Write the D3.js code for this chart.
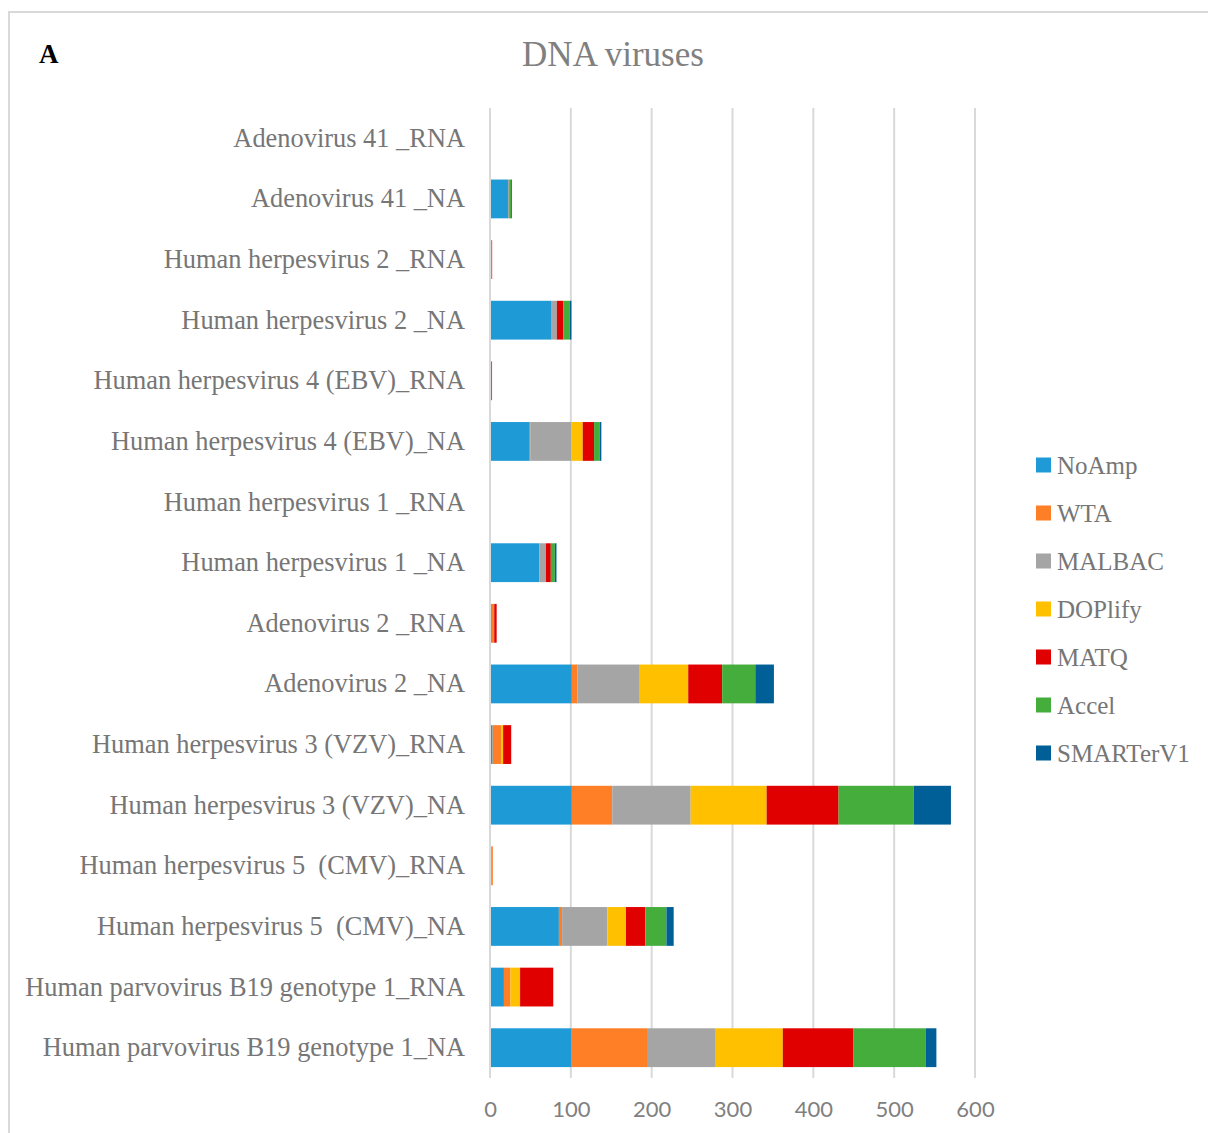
<!DOCTYPE html>
<html>
<head>
<meta charset="utf-8">
<script src="https://cdn.jsdelivr.net/npm/d3@7"></script>
<style>
  html, body { margin: 0; padding: 0; background: #ffffff; }
  svg { display: block; }
</style>
</head>
<body>
<div id="chart"></div>
<script>
// Categories, listed top to bottom
const categories = [
  "Adenovirus 41 _RNA",
  "Adenovirus 41 _NA",
  "Human herpesvirus 2 _RNA",
  "Human herpesvirus 2 _NA",
  "Human herpesvirus 4 (EBV)_RNA",
  "Human herpesvirus 4 (EBV)_NA",
  "Human herpesvirus 1 _RNA",
  "Human herpesvirus 1 _NA",
  "Adenovirus 2 _RNA",
  "Adenovirus 2 _NA",
  "Human herpesvirus 3 (VZV)_RNA",
  "Human herpesvirus 3 (VZV)_NA",
  "Human herpesvirus 5  (CMV)_RNA",
  "Human herpesvirus 5  (CMV)_NA",
  "Human parvovirus B19 genotype 1_RNA",
  "Human parvovirus B19 genotype 1_NA"
];

const seriesNames = ["NoAmp", "WTA", "MALBAC", "DOPlify", "MATQ", "Accel", "SMARTerV1"];
const seriesColors = ["#1e9bd7", "#ff7f27", "#a5a5a5", "#ffc000", "#e00000", "#44ad3c", "#005f96"];

// One array per method, in category order
const NoAmp     = [0, 21, 0,   75, 0.5, 47, 0, 60, 1, 100,  2, 100, 0.3, 84, 16, 99];
const WTA       = [0, 0,  0.8, 0.5, 0,  1.5, 0, 0, 3,   7, 11,  50, 2,    4,  8, 94];
const MALBAC    = [0, 2,  0,    6, 0,   51, 0, 8, 0,  77,  0,  97, 0,   56,  0, 85];
const DOPlify   = [0, 0,  0,    0, 0,   14, 0, 0, 0,  60,  2,  94, 0,   23, 12, 83];
const MATQ      = [0, 0.5, 0.6, 8, 0.8, 14, 0, 6, 3,  42, 10,  89, 0,   24, 41, 87];
const Accel     = [0, 1.5, 0,   8, 0,    7, 0, 5, 0,  41,  0,  93, 0,   26,  0, 90];
const SMARTerV1 = [0, 1,  0,    2, 0,    2, 0, 2, 0,  23,  0,  46, 0,    9,  0, 13];

const xTicks = [0, 100, 200, 300, 400, 500, 600];

const seriesValues = [NoAmp, WTA, MALBAC, DOPlify, MATQ, Accel, SMARTerV1];
const rows = categories.map((c, i) => {
  const r = { category: c };
  seriesNames.forEach((s, j) => { r[s] = seriesValues[j][i]; });
  return r;
});

const W = 1208, H = 1133;
const svg = d3.select("#chart").append("svg")
  .attr("width", W).attr("height", H);

// Outer frame
svg.append("rect")
  .attr("x", 9).attr("y", 12)
  .attr("width", W + 20).attr("height", H + 20)
  .attr("fill", "#ffffff")
  .attr("stroke", "#d9d9d9").attr("stroke-width", 2);

const plotLeft = 490, plotRight = 975, plotTop = 108, plotBottom = 1078;

const x = d3.scaleLinear().domain([0, 600]).range([plotLeft, plotRight]);
const y = d3.scaleBand().domain(categories).range([plotTop, plotBottom])
  .paddingInner(0.36).paddingOuter(0.18);
const color = d3.scaleOrdinal().domain(seriesNames).range(seriesColors);

// Vertical gridlines
svg.append("g").selectAll("line").data(xTicks).join("line")
  .attr("x1", d => x(d)).attr("x2", d => x(d))
  .attr("y1", plotTop).attr("y2", plotBottom)
  .attr("stroke", "#d9d9d9").attr("stroke-width", 2);

// Stacked bars
const stack = d3.stack().keys(seriesNames);
const layers = stack(rows);

svg.append("g").selectAll("g").data(layers).join("g")
  .attr("fill", d => color(d.key))
  .selectAll("rect").data(d => d).join("rect")
  .attr("x", d => x(d[0]) + 1)
  .attr("y", d => y(d.data.category))
  .attr("width", d => Math.max(0, x(d[1]) - x(d[0])))
  .attr("height", y.bandwidth());

// X axis tick labels
const xAxis = d3.axisBottom(x).tickValues(xTicks).tickSize(0).tickPadding(0);
const gx = svg.append("g").attr("transform", `translate(0,${plotBottom})`).call(xAxis);
gx.select(".domain").remove();
gx.selectAll("text")
  .attr("dy", 0).attr("y", 39)
  .attr("font-family", "Lato, 'Open Sans', sans-serif")
  .attr("font-size", 22)
  .attr("fill", "#808080");

// Category labels
const yAxis = d3.axisLeft(y).tickSize(0).tickPadding(0);
const gy = svg.append("g").attr("transform", `translate(465,0)`).call(yAxis);
gy.select(".domain").remove();
gy.selectAll("text")
  .attr("dy", "0.32em")
  .attr("font-family", "'Liberation Serif', 'DejaVu Serif', serif")
  .attr("font-size", 26.4)
  .attr("fill", "#767676")
  .style("white-space", "pre");

// Title and panel letter
svg.append("text")
  .attr("x", 613).attr("y", 66)
  .attr("text-anchor", "middle")
  .attr("font-family", "'Liberation Serif', serif")
  .attr("font-size", 35)
  .attr("fill", "#808080")
  .text("DNA viruses");

svg.append("text")
  .attr("x", 39).attr("y", 63)
  .attr("font-family", "'Liberation Serif', serif")
  .attr("font-weight", "bold")
  .attr("font-size", 27)
  .attr("fill", "#000000")
  .text("A");

// Legend
const legend = svg.append("g").selectAll("g").data(seriesNames).join("g")
  .attr("transform", (d, i) => `translate(1036,${465 + i * 48})`);
legend.append("rect")
  .attr("x", 0).attr("y", -7.5)
  .attr("width", 15).attr("height", 15)
  .attr("fill", d => color(d));
legend.append("text")
  .attr("x", 21).attr("y", 0).attr("dy", "0.35em")
  .attr("font-family", "'Liberation Serif', serif")
  .attr("font-size", 25)
  .attr("fill", "#767676")
  .text(d => d);
</script>
</body>
</html>
